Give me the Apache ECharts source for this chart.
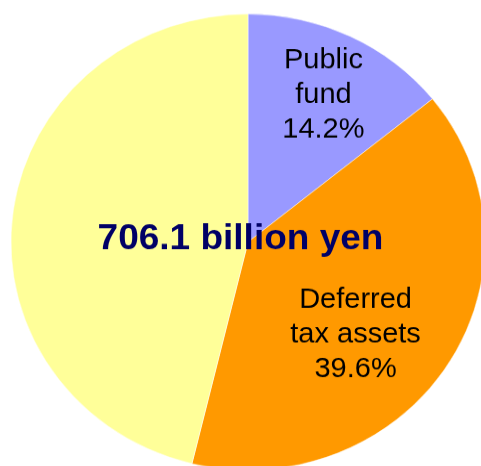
<!DOCTYPE html>
<html>
<head>
<meta charset="utf-8">
<script src="https://cdn.jsdelivr.net/npm/echarts@6/dist/echarts.min.js"></script>
<style>
  html, body { margin: 0; padding: 0; background: #ffffff; overflow: hidden; }
  #wrap { width: 481px; height: 466px; overflow: hidden; position: relative; }
  /* The pie is drawn as a slightly flattened disc: the chart canvas is squeezed vertically. */
  #chart { width: 481px; height: 485px; transform-origin: 0 0; transform: scaleY(0.962); }
</style>
</head>
<body>
<div id="wrap"><div id="chart"></div></div>
<script>
// Breakdown of the 706.1 billion yen total (percent of total)
const sliceNames  = ['Public\nfund', 'Deferred\ntax assets', 'Other'];
const sliceValues = [14.2, 39.6, 46.2];
const sliceColors = ['#9999ff', '#ff9900', '#ffff99'];
const showLabel   = [true, true, false];
const totalLabel  = '706.1 billion yen';

// Nudges from the default "inside" label anchor, per slice
const labelNudge = [[23, -43], [5, 31], [0, 0]];

const chart = echarts.init(document.getElementById('chart'), null, { renderer: 'canvas' });

const seriesData = sliceNames.map((name, i) => ({
  name: name,
  value: sliceValues[i],
  itemStyle: { color: sliceColors[i] },
  label: { show: showLabel[i] }
}));

chart.setOption({
  animation: false,
  graphic: [{
    type: 'text',
    x: 240.5,
    y: 248.5,
    z: 100,
    style: {
      text: totalLabel,
      fill: '#000066',
      font: 'bold 37px "Liberation Sans", Arial, sans-serif',
      textAlign: 'center',
      textVerticalAlign: 'middle'
    }
  }],
  series: [{
    type: 'pie',
    center: [248, 251.6],
    radius: 237,
    startAngle: 90,
    clockwise: true,
    avoidLabelOverlap: false,
    silent: true,
    itemStyle: { borderColor: '#ffffff', borderWidth: 0.5 },
    label: {
      position: 'inside',
      color: '#000000',
      fontFamily: '"Liberation Sans", Arial, sans-serif',
      fontSize: 29,
      lineHeight: 36,
      align: 'center',
      formatter: p => p.name + '\n' + p.value.toFixed(1) + '%'
    },
    labelLine: { show: false },
    labelLayout: params => ({
      dx: labelNudge[params.dataIndex][0],
      dy: labelNudge[params.dataIndex][1]
    }),
    data: seriesData
  }]
});
</script>
</body>
</html>
